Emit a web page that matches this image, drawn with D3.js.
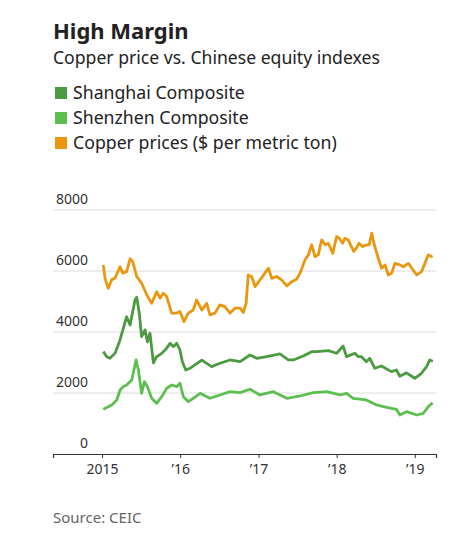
<!DOCTYPE html>
<html>
<head>
<meta charset="utf-8">
<script src="https://cdn.jsdelivr.net/npm/d3@7"></script>
<style>
  body { margin: 0; background: #fff; }
  svg { font-family: 'Noto Sans', sans-serif; }
</style>
</head>
<body>
<div id="chart"></div>
<script>
// Series data: [date, value]
const shanghai = [
  ['2015-01-07', 3356], ['2015-01-23', 3190], ['2015-02-07', 3140], ['2015-03-03', 3300],
  ['2015-03-26', 3740], ['2015-04-26', 4500], ['2015-05-12', 4230], ['2015-06-04', 5050],
  ['2015-06-12', 5140], ['2015-06-24', 4620], ['2015-07-05', 3850], ['2015-07-21', 4070],
  ['2015-08-01', 3680], ['2015-08-13', 3960], ['2015-08-29', 2990], ['2015-09-13', 3190],
  ['2015-10-07', 3300], ['2015-10-30', 3470], ['2015-11-15', 3630], ['2015-11-30', 3520],
  ['2015-12-16', 3630], ['2015-12-31', 3410], ['2016-01-11', 3030], ['2016-01-27', 2755],
  ['2016-02-16', 2810], ['2016-03-10', 2920], ['2016-04-11', 3080], ['2016-05-27', 2864],
  ['2016-07-05', 2975], ['2016-08-21', 3083], ['2016-10-07', 3028], ['2016-11-22', 3247],
  ['2016-12-24', 3139], ['2017-02-08', 3192], ['2017-04-11', 3280], ['2017-05-20', 3083],
  ['2017-06-13', 3083], ['2017-07-29', 3214], ['2017-09-06', 3356], ['2017-09-30', 3356],
  ['2017-11-23', 3388], ['2018-01-01', 3303], ['2018-01-31', 3542], ['2018-02-16', 3192],
  ['2018-03-27', 3303], ['2018-04-11', 3192], ['2018-04-27', 3192], ['2018-05-20', 3028],
  ['2018-06-05', 3139], ['2018-06-28', 2811], ['2018-07-29', 2886], ['2018-09-14', 2700],
  ['2018-10-07', 2755], ['2018-10-23', 2550], ['2018-11-23', 2660], ['2019-01-01', 2483],
  ['2019-02-01', 2647], ['2019-02-25', 2864], ['2019-03-12', 3083], ['2019-03-26', 3040]
]

const shenzhen = [
  ['2015-01-07', 1466], ['2015-02-15', 1607], ['2015-03-11', 1771], ['2015-03-26', 2099],
  ['2015-04-10', 2208], ['2015-04-26', 2263], ['2015-05-20', 2427], ['2015-06-09', 3083],
  ['2015-06-20', 2755], ['2015-07-05', 1991], ['2015-07-18', 2372], ['2015-08-01', 2208],
  ['2015-08-21', 1827], ['2015-09-13', 1662], ['2015-10-07', 1880], ['2015-10-30', 2155],
  ['2015-11-23', 2263], ['2015-12-16', 2208], ['2015-12-31', 2319], ['2016-01-16', 1880],
  ['2016-02-08', 1716], ['2016-03-02', 1827], ['2016-04-03', 1991], ['2016-05-19', 1827],
  ['2016-07-05', 1935], ['2016-08-21', 2043], ['2016-10-07', 2011], ['2016-11-22', 2122],
  ['2017-01-08', 1935], ['2017-03-11', 2043], ['2017-05-13', 1827], ['2017-07-14', 1902],
  ['2017-09-14', 2011], ['2017-11-15', 2043], ['2018-01-17', 1935], ['2018-02-16', 1991],
  ['2018-03-19', 1827], ['2018-05-20', 1771], ['2018-07-06', 1607], ['2018-08-22', 1532],
  ['2018-10-07', 1466], ['2018-10-23', 1279], ['2018-11-23', 1388], ['2019-01-10', 1279],
  ['2019-02-10', 1335], ['2019-03-05', 1552], ['2019-03-25', 1683]
]

const copper = [
  ['2015-01-07', 6200], ['2015-01-15', 5760], ['2015-01-30', 5430], ['2015-02-15', 5710],
  ['2015-03-03', 5770], ['2015-03-26', 6140], ['2015-04-08', 5930], ['2015-04-26', 5980],
  ['2015-05-12', 6400], ['2015-05-24', 6310], ['2015-06-12', 5820], ['2015-07-05', 5600],
  ['2015-07-29', 5220], ['2015-08-21', 4940], ['2015-09-13', 5320], ['2015-09-29', 5110],
  ['2015-10-14', 5270], ['2015-10-30', 5160], ['2015-11-22', 4620], ['2015-12-16', 4620],
  ['2015-12-31', 4670], ['2016-01-19', 4340], ['2016-02-08', 4620], ['2016-03-02', 4720],
  ['2016-03-18', 5050], ['2016-04-11', 4720], ['2016-05-04', 4940], ['2016-05-19', 4560],
  ['2016-06-12', 4620], ['2016-07-05', 4890], ['2016-07-28', 4830], ['2016-08-21', 4620],
  ['2016-09-13', 4780], ['2016-10-07', 4780], ['2016-10-22', 4640], ['2016-11-04', 4940],
  ['2016-11-14', 5870], ['2016-11-30', 5820], ['2016-12-16', 5490], ['2017-01-08', 5710],
  ['2017-01-31', 5930], ['2017-02-16', 6090], ['2017-03-04', 5760], ['2017-03-27', 5820],
  ['2017-04-19', 5710], ['2017-05-13', 5510], ['2017-06-05', 5650], ['2017-06-28', 5730],
  ['2017-07-14', 5930], ['2017-08-06', 6360], ['2017-08-22', 6530], ['2017-09-06', 6860],
  ['2017-09-22', 6470], ['2017-10-07', 6530], ['2017-10-23', 7020], ['2017-11-08', 6860],
  ['2017-11-23', 6910], ['2017-12-14', 6580], ['2018-01-01', 7130], ['2018-01-13', 7075],
  ['2018-01-29', 6910], ['2018-02-09', 7075], ['2018-02-24', 7020], ['2018-03-07', 6855],
  ['2018-03-22', 6640], ['2018-04-03', 6750], ['2018-04-15', 6910], ['2018-05-01', 6800],
  ['2018-05-20', 6855], ['2018-06-02', 6855], ['2018-06-14', 7240], ['2018-06-24', 6910],
  ['2018-07-15', 6400], ['2018-07-30', 6090], ['2018-08-15', 6200], ['2018-08-30', 5870],
  ['2018-09-15', 5930], ['2018-09-30', 6250], ['2018-10-24', 6200], ['2018-11-08', 6140],
  ['2018-12-02', 6250], ['2018-12-18', 6090], ['2019-01-10', 5870], ['2019-02-02', 5980],
  ['2019-02-17', 6250], ['2019-03-05', 6530], ['2019-03-25', 6450]
]

const seriesNames = ['Shanghai Composite', 'Shenzhen Composite', 'Copper prices ($ per metric ton)']
const yTicks = [0, 2000, 4000, 6000, 8000]
const xTicks = ['2015-01-01', '2016-01-01', '2017-01-01', '2018-01-01', '2019-01-01']
const xTickLabels = ['2015', '\u201916', '\u201917', '\u201918', '\u201919']

// Const variables
const width = 472
const height = 540
const colors = ['#4c9a42', '#5cbf50', '#e8970f']
const parse = d3.timeParse('%Y-%m-%d')

const svg = d3.select('#chart')
  .append('svg')
    .attr('width', width)
    .attr('height', height)

// Title and legend
svg.append('text')
  .attr('x', 53).attr('y', 39)
  .attr('font-size', 22).attr('font-weight', 700)
  .attr('fill', '#222')
  .text('High Margin')

svg.append('text')
  .attr('x', 53).attr('y', 64)
  .attr('font-size', 17.6)
  .attr('fill', '#222')
  .text('Copper price vs. Chinese equity indexes')

const legend = svg.selectAll('.legend')
  .data(seriesNames)
  .enter()
  .append('g')
    .attr('class', 'legend')
    .attr('transform', (d, i) => 'translate(55,' + (87 + i * 25) + ')')

legend.append('rect')
  .attr('width', 12).attr('height', 12)
  .attr('fill', (d, i) => colors[i])

legend.append('text')
  .attr('x', 18).attr('y', 11.5)
  .attr('font-size', 17.7)
  .attr('fill', '#222')
  .text(d => d)

// Scales
const x = d3.scaleTime()
  .domain([parse('2014-05-17'), parse('2019-04-10')])
  .range([53, 436])

const y = d3.scaleLinear()
  .domain([0, 8000])
  .range([454, 210])

// Gridlines and y labels
const grid = svg.append('g')
grid.selectAll('line')
  .data(yTicks.slice(1))
  .enter()
  .append('line')
    .attr('x1', 53).attr('x2', 436)
    .attr('y1', d => y(d)).attr('y2', d => y(d))
    .attr('stroke', '#dcdcdc')
    .attr('stroke-width', 1)

grid.selectAll('text')
  .data(yTicks)
  .enter()
  .append('text')
    .attr('x', 88)
    .attr('y', d => y(d) - 6)
    .attr('text-anchor', 'end')
    .attr('font-size', 14)
    .attr('fill', '#333')
    .text(d => d)

// X axis
const xAxis = d3.axisBottom(x)
  .tickValues(xTicks.map(parse))
  .tickFormat((d, i) => xTickLabels[i])
  .tickSize(4)
  .tickPadding(6)

const axisG = svg.append('g')
  .attr('transform', 'translate(0,' + y(0) + ')')
  .call(xAxis)

axisG.select('.domain').attr('stroke', '#333').attr('stroke-width', 1.2)
axisG.selectAll('.tick line').attr('stroke', '#333')
axisG.selectAll('.tick text')
  .attr('font-size', 14)
  .attr('font-family', "'Noto Sans', sans-serif")
  .attr('fill', '#333')

// Lines
const line = d3.line()
  .x(d => x(parse(d[0])))
  .y(d => y(d[1]))

const allSeries = [shanghai, shenzhen, copper]
svg.append('g')
  .selectAll('path')
  .data(allSeries)
  .enter()
  .append('path')
    .attr('d', line)
    .attr('fill', 'none')
    .attr('stroke', (d, i) => colors[i])
    .attr('stroke-width', 2.8)
    .attr('stroke-linejoin', 'round')

// Source
svg.append('text')
  .attr('x', 53).attr('y', 523)
  .attr('font-size', 15)
  .attr('fill', '#666')
  .text('Source: CEIC')
</script>
</body>
</html>
